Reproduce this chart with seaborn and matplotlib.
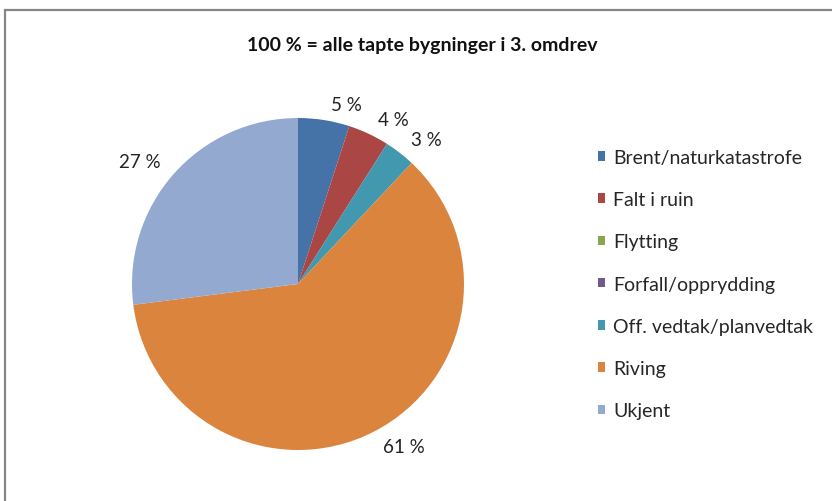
import matplotlib
matplotlib.use("Agg")
import numpy as np
import matplotlib.pyplot as plt
import seaborn as sns
from matplotlib.patches import Rectangle

# data
categories = ["Brent/naturkatastrofe", "Falt i ruin", "Flytting", "Forfall/opprydding",
              "Off. vedtak/planvedtak", "Riving", "Ukjent"]
shares = [5, 4, 0, 0, 3, 61, 27]
colors = ["#4572A7", "#AA4643", "#89A54E", "#71588F", "#4198AF", "#DB843D", "#93A9CF"]
title = "100 % = alle tapte bygninger i 3. omdrev"

sns.set_theme(style="white")
plt.rcParams["font.family"] = ["Lato", "DejaVu Sans"]

W, H = 832, 502
fig = plt.figure(figsize=(W / 100, H / 100), dpi=100)

# pie axes: centre (298, 285), radius 166 px
cx, cy, r = 298, 285, 166
ax = fig.add_axes([(cx - r) / W, (H - cy - r) / H, 2 * r / W, 2 * r / H])

palette = sns.color_palette(colors)
wedges, texts, autotexts = ax.pie(
    shares, colors=palette, startangle=90, counterclock=False,
    autopct=lambda p: f"{p:.0f} %" if p > 0.5 else "",
    pctdistance=1.1, wedgeprops=dict(linewidth=0),
    textprops=dict(fontsize=13.5, color="#222222"))

# Excel-style "outside end" labels: anchor the nearest corner of the text
for w, t in zip(wedges, autotexts):
    mid = np.deg2rad((w.theta1 + w.theta2) / 2)
    x, y = np.cos(mid), np.sin(mid)
    t.set_position((1.06 * x + 0.03 * np.sign(x), 1.04 * y))
    t.set_ha("left" if x > 0 else "right")
    t.set_va("bottom" if y > 0 else "top")

ax.set_xlim(-1, 1)
ax.set_ylim(-1, 1)
ax.set_aspect("equal")

fig.text(422 / W, 1 - 45 / H, title, ha="center", va="center",
         fontsize=14, fontweight="bold", color="#111111")

fig.legend(wedges, categories, loc="upper left",
           bbox_to_anchor=(590 / W, 1 - 142 / H), frameon=False,
           fontsize=14, handlelength=0.38, handleheight=0.38,
           handletextpad=0.4, labelspacing=1.3, borderaxespad=0)

# chart border (only top and left edges visible)
fig.patches.append(Rectangle((5 / W, -0.1), 1.2, 1.1 - 11 / H,
                             transform=fig.transFigure, fill=False,
                             edgecolor="#868686", linewidth=1.6))

fig.savefig("out.png", dpi=100)
